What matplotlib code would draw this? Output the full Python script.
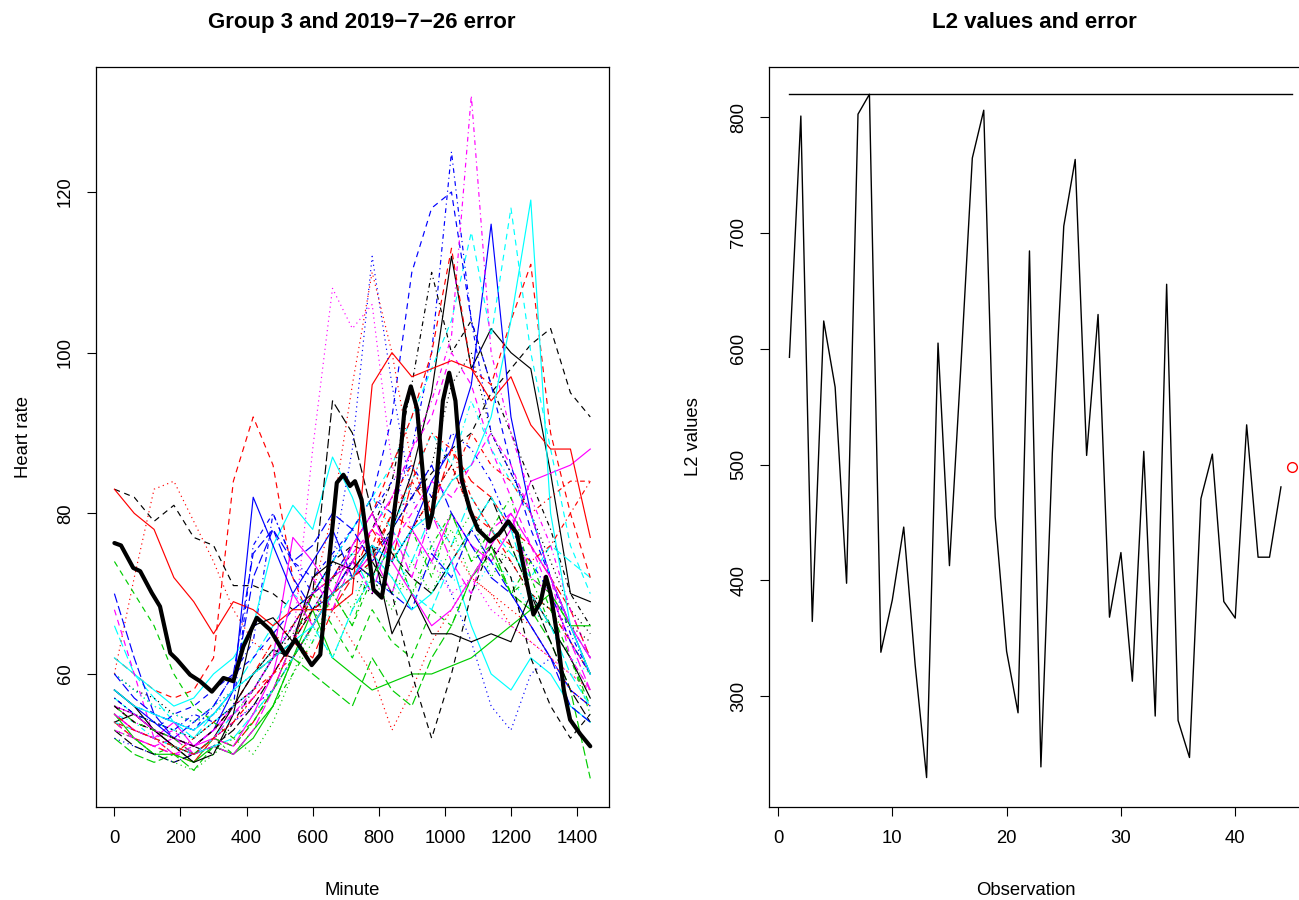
import matplotlib
matplotlib.use("Agg")
import matplotlib.pyplot as plt

plt.rcParams['font.family'] = ['Liberation Sans', 'DejaVu Sans']

# ---------------- data ----------------
minutes = [0, 60, 120, 180, 240, 300, 360, 420, 480, 540, 600, 660, 720,
           780, 840, 900, 960, 1020, 1080, 1140, 1200, 1260, 1320, 1380, 1440]

curves = [
    [54,55,53,51,50,52,56,60,63,62,66,70,74,72,78,85,95,112,98,103,100,98,85,70,69],
    [62,60,58,57,58,62,84,92,86,72,66,70,72,75,80,78,82,86,80,78,74,70,68,64,60],
    [60,58,56,55,54,55,57,55,58,62,66,72,68,75,72,70,74,78,72,76,70,68,66,62,58],
    [58,56,55,54,53,56,60,64,80,74,72,75,78,82,80,88,100,125,104,90,85,80,72,65,60],
    [66,60,57,54,52,55,58,62,66,70,68,72,75,70,78,74,80,76,82,78,75,72,76,74,72],
    [55,53,52,54,51,53,56,58,62,77,74,70,72,75,70,78,74,80,76,74,78,84,85,86,88],
    [83,82,79,81,77,76,71,71,70,68,70,74,76,75,78,82,85,88,90,95,98,101,103,95,92],
    [60,72,83,84,79,74,68,64,62,66,70,68,64,60,53,58,64,68,72,70,66,64,62,60,58],
    [54,52,50,51,49,52,50,53,56,60,64,70,66,74,70,78,72,80,74,76,70,72,66,62,55],
    [70,62,55,52,54,56,60,75,78,72,68,70,74,72,70,68,75,72,78,74,70,66,62,58,56],
    [62,60,58,56,57,60,62,66,76,81,78,87,82,75,72,68,70,74,66,60,58,62,60,56,54],
    [68,60,52,53,50,52,55,57,60,64,68,72,75,78,82,88,92,100,96,88,82,76,70,64,60],
    [60,58,57,55,54,56,58,60,62,66,70,72,75,74,80,82,86,96,100,90,85,80,74,68,65],
    [55,53,52,50,52,54,56,58,60,62,66,70,72,76,82,86,80,84,90,86,84,80,82,84,84],
    [52,50,49,50,48,51,50,53,56,62,60,58,56,62,58,56,62,66,72,75,70,68,64,58,47],
    [58,56,54,52,51,53,58,82,76,70,74,78,72,76,74,78,84,88,96,116,92,80,72,66,60],
    [57,55,54,53,52,54,56,58,62,66,70,74,78,82,86,92,98,104,115,102,118,100,88,76,70],
    [56,54,53,52,51,53,55,57,60,64,88,108,103,106,86,78,74,70,72,68,66,64,62,60,58],
    [57,55,53,52,51,50,54,58,62,65,68,72,74,78,84,96,110,100,104,96,90,84,78,70,66],
    [54,52,51,50,49,52,51,54,58,64,62,68,72,78,74,84,80,88,84,82,78,76,72,68,62],
    [55,52,50,50,49,51,50,52,56,62,68,62,60,58,59,60,60,61,62,64,66,68,70,66,66],
    [56,54,53,55,56,58,60,62,65,68,70,74,78,82,92,110,118,120,104,96,86,78,72,66,62],
    [60,58,56,55,54,56,58,60,63,66,64,68,70,72,70,74,76,72,70,74,72,68,66,62,60],
    [54,52,51,50,50,52,54,56,58,62,66,70,74,78,82,88,94,102,132,100,90,82,76,68,62],
    [53,51,50,49,50,51,53,56,60,64,70,94,90,80,75,72,70,74,78,82,76,70,64,58,54],
    [83,80,78,72,69,65,69,68,66,68,68,68,70,96,100,97,98,99,98,94,97,91,88,88,77],
    [74,70,66,60,56,54,52,54,58,64,70,66,62,68,64,62,68,66,72,76,70,74,68,62,56],
    [52,51,50,49,50,52,54,56,58,62,66,74,88,112,96,82,76,70,64,56,53,60,62,58,56],
    [55,54,52,51,50,52,55,58,62,66,70,74,78,82,78,84,90,86,94,88,84,80,72,66,62],
    [53,52,51,52,50,51,50,53,58,64,72,68,74,70,78,72,80,74,70,78,80,72,70,64,58],
    [58,56,53,51,49,50,55,66,67,64,72,74,73,76,65,70,65,65,64,65,64,70,66,62,57],
    [56,54,53,52,51,53,56,60,64,66,70,72,76,80,86,92,100,113,98,96,104,111,90,80,72],
    [53,52,50,49,48,50,52,50,54,60,66,62,68,72,68,74,70,76,80,72,76,70,68,64,60],
    [57,55,54,53,55,54,56,76,80,74,70,72,76,80,84,86,82,90,88,84,78,74,70,64,60],
    [54,53,52,51,50,51,52,55,58,62,66,62,68,72,76,70,68,74,78,82,78,70,66,60,56],
    [56,55,53,52,51,52,51,55,60,70,66,70,76,80,74,70,66,68,72,76,80,76,72,66,62],
    [56,54,53,52,51,53,56,60,62,64,68,70,72,74,70,60,52,60,70,76,72,62,56,52,55],
    [55,53,52,51,50,52,54,57,60,64,70,80,96,110,100,86,80,76,72,70,68,66,62,58,56],
    [56,54,53,52,50,52,51,54,58,62,66,70,66,72,76,70,76,80,74,78,82,72,70,66,60],
    [60,57,55,54,53,55,58,72,78,74,76,80,78,74,78,82,86,80,76,72,70,66,62,56,54],
    [58,56,55,54,53,55,58,60,62,64,66,70,72,76,74,78,80,84,86,92,104,119,80,66,60],
    [55,53,52,50,51,53,55,58,62,66,70,72,74,78,76,80,84,82,86,90,86,80,72,62,58],
    [56,55,54,53,52,54,56,58,62,66,70,74,72,70,74,78,82,86,80,76,74,70,68,66,64],
    [54,53,52,51,50,52,54,57,60,64,68,70,72,74,80,84,90,88,82,78,76,74,76,80,84],
]

error_minutes = [0, 20, 57, 78, 113, 138, 169, 189, 229, 259, 295, 330, 360, 390,
                 431, 471, 517, 547, 597, 623, 648, 673, 693, 713, 728, 748, 784,
                 809, 827, 859, 878, 897, 916, 935, 950, 962, 975, 994, 1013, 1032,
                 1051, 1076, 1100, 1137, 1165, 1192, 1218, 1245, 1268, 1290, 1306,
                 1320, 1339, 1360, 1379, 1410, 1440]
error_hr = [76.3, 76.0, 73.2, 72.8, 70.1, 68.4, 62.6, 61.8, 59.9, 59.1, 57.8, 59.5,
            59.1, 63.4, 67.0, 65.5, 62.4, 64.3, 61.1, 62.4, 73.4, 83.8, 84.8, 83.4,
            84.0, 81.7, 70.5, 69.5, 73.8, 84.2, 93.0, 95.8, 93.0, 84.2, 78.2, 80.0,
            84.2, 94.0, 97.5, 94.0, 84.2, 80.4, 78.0, 76.5, 77.5, 79.0, 77.5, 72.0,
            67.4, 69.0, 72.1, 70.0, 65.1, 58.0, 54.3, 52.5, 51.0]

l2_values = [592.6, 801, 364.5, 624, 566.8, 397.5, 802.6, 819.8, 337.9, 383,
             446, 327, 229.7, 604.9, 412.7, 585, 764.7, 806, 454.9, 338.7,
             285.6, 684.5, 238.9, 510, 705.9, 763.5, 507.9, 629.6, 368.2, 424,
             312.9, 511.4, 282.8, 655.7, 279, 247, 470.6, 509, 381.7, 367.4,
             534.3, 420, 420, 480.7]
error_l2 = 497.6

# ---------------- style ----------------
r_cols = ['#000000', '#FF0000', '#00CD00', '#0000FF', '#00FFFF', '#FF00FF']
r_ltys = ['-', (0, (5, 4)), (0, (1, 3)), (0, (1, 3, 4, 3)), (0, (8, 3))]

W, H = 1299, 900
fig = plt.figure(figsize=(W / 100, H / 100), dpi=100)

def fx(px):
    return px / W

def fy(py):
    return 1 - py / H

ax1 = fig.add_axes([fx(95.7), fy(807.3), fx(609.3) - fx(95.7), fy(66.7) - fy(807.3)])
ax2 = fig.add_axes([fx(769.3), fy(807.3), fx(1312.5) - fx(769.3), fy(66.7) - fy(807.3)])

for i, c in enumerate(curves):
    ax1.plot(minutes, c, color=r_cols[i % 6], linestyle=r_ltys[i % 5], lw=0.85)
ax1.plot(error_minutes, error_hr, color='black', lw=3.0, solid_capstyle='round')

ax1.set_xlim(-56.6, 1497.6)
ax1.set_ylim(43.4, 135.6)
ax1.set_xticks([0, 200, 400, 600, 800, 1000, 1200, 1400])
ax1.set_yticks([60, 80, 100, 120])

obs = list(range(1, len(l2_values) + 1))
ax2.plot(obs, l2_values, color='black', lw=1.0)
ax2.plot([1, len(l2_values) + 1], [max(l2_values)] * 2, color='black', lw=1.0)
ax2.plot([len(l2_values) + 1], [error_l2], marker='o', ms=7, mfc='none',
         mec='red', mew=1.0, linestyle='none')
ax2.set_xlim(-0.76, 46.76)
ax2.set_ylim(204.0, 843.6)
ax2.set_xticks([0, 10, 20, 30, 40])
ax2.set_yticks([300, 400, 500, 600, 700, 800])

for ax in (ax1, ax2):
    for s in ax.spines.values():
        s.set_linewidth(0.9)
    ax.tick_params(axis='both', length=6.7, width=0.8, labelsize=13.3, color='black')
    ax.tick_params(axis='x', pad=10)
    ax.tick_params(axis='y', pad=9)
    for lab in ax.get_yticklabels():
        lab.set_rotation(90)
        lab.set_va('center')
        lab.set_ha('right')

fig.text(fx(361.7), fy(28.3), 'Group 3 and 2019\u22127\u221226 error', ha='center',
         va='baseline', fontsize=16, fontweight='bold')
fig.text(fx(1034.5), fy(28.3), 'L2 values and error', ha='center',
         va='baseline', fontsize=16, fontweight='bold')
fig.text(fx(352.5), fy(895), 'Minute', ha='center', va='baseline', fontsize=13.3)
fig.text(fx(1026), fy(895), 'Observation', ha='center', va='baseline', fontsize=13.3)
fig.text(fx(23), fy(437), 'Heart rate', ha='center', va='center', rotation=90, fontsize=13.3)
fig.text(fx(693), fy(437), 'L2 values', ha='center', va='center', rotation=90, fontsize=13.3)

fig.savefig('out.png', dpi=100)
